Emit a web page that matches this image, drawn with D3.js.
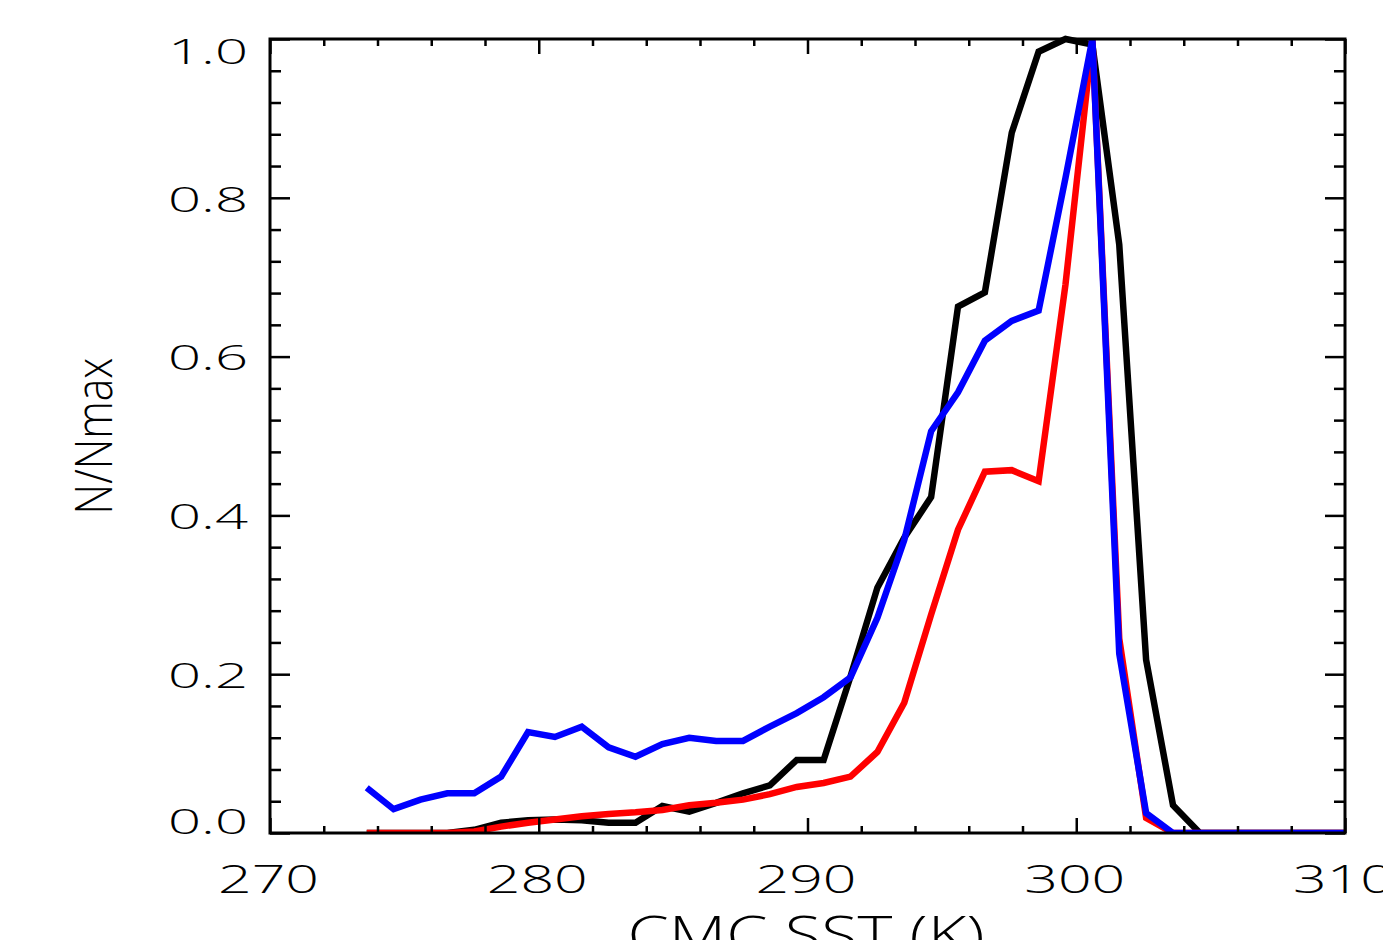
<!DOCTYPE html>
<html>
<head>
<meta charset="UTF-8">
<title>CMC SST N/Nmax</title>
<script src="https://cdn.jsdelivr.net/npm/d3@7/dist/d3.min.js"></script>
<style>
  html, body { margin: 0; padding: 0; background: #fff; overflow: hidden; }
  svg { display: block; }
  text { font-family: "Open Sans", "DejaVu Sans", sans-serif; font-weight: 300; fill: #000; }
</style>
</head>
<body>
<script>
// bin centres (K)
var sst = [273.6, 274.6, 275.6, 276.6, 277.6, 278.6, 279.6, 280.6, 281.6, 282.6,
           283.6, 284.6, 285.6, 286.6, 287.6, 288.6, 289.6, 290.6, 291.6, 292.6,
           293.6, 294.6, 295.6, 296.6, 297.6, 298.6, 299.6, 300.6, 301.6, 302.6,
           303.6, 304.6, 305.6, 306.6, 307.6, 308.6, 309.6, 310.6];

var blackN = [0, 0, 0, 0, 0.004, 0.013, 0.016, 0.017, 0.016, 0.013,
              0.013, 0.034, 0.027, 0.038, 0.050, 0.060, 0.092, 0.092, 0.197, 0.309,
              0.372, 0.423, 0.663, 0.681, 0.882, 0.984, 1.0, 0.993, 0.741, 0.218,
              0.035, 0, 0, 0, 0, 0, 0, 0];

var redN = [0, 0, 0, 0, 0.002, 0.008, 0.013, 0.017, 0.021, 0.024,
            0.026, 0.029, 0.035, 0.038, 0.042, 0.049, 0.058, 0.063, 0.071, 0.102,
            0.164, 0.275, 0.382, 0.455, 0.457, 0.443, 0.691, 1.0, 0.245, 0.019,
            0, 0, 0, 0, 0, 0, 0, 0];

var blueN = [0.057, 0.030, 0.042, 0.050, 0.050, 0.071, 0.127, 0.121, 0.134, 0.108,
             0.096, 0.112, 0.120, 0.116, 0.116, 0.134, 0.151, 0.171, 0.196, 0.271,
             0.369, 0.506, 0.555, 0.620, 0.645, 0.658, 0.825, 1.0, 0.226, 0.025,
             0, 0, 0, 0, 0, 0, 0, 0];

var xMajor = [270, 280, 290, 300, 310];
var xMinor = [272, 274, 276, 278, 282, 284, 286, 288, 292, 294, 296, 298, 302, 304, 306, 308];
var yMajor = [0.0, 0.2, 0.4, 0.6, 0.8, 1.0];
var yMinor = [0.04, 0.08, 0.12, 0.16, 0.24, 0.28, 0.32, 0.36, 0.44, 0.48, 0.52, 0.56,
              0.64, 0.68, 0.72, 0.76, 0.84, 0.88, 0.92, 0.96];

var series = [
  {name: "black", color: "#000000", values: blackN},
  {name: "red",   color: "#ff0000", values: redN},
  {name: "blue",  color: "#0000ff", values: blueN}
];

(function(){
  var W = 1383, H = 940;
  var pL = 270, pR = 1345, pT = 39, pB = 833;

  var x = d3.scaleLinear().domain([270, 310]).range([pL, pR]);
  var y = d3.scaleLinear().domain([0, 1]).range([pB, pT]);

  var svg = d3.select("body").append("svg")
      .attr("width", W)
      .attr("height", H);

  svg.append("clipPath").attr("id", "plotclip")
    .append("rect")
      .attr("x", pL).attr("y", pT - 6)
      .attr("width", pR - pL).attr("height", pB - pT + 6);

  // curves
  var line = d3.line()
      .x(function(d){ return x(d[0]); })
      .y(function(d){ return y(d[1]); });

  svg.append("g").attr("clip-path", "url(#plotclip)")
    .selectAll("path")
    .data(series)
    .enter().append("path")
      .attr("d", function(s){ return line(sst.map(function(k, i){ return [k, s.values[i]]; })); })
      .attr("fill", "none")
      .attr("stroke", function(s){ return s.color; })
      .attr("stroke-width", 6.5);

  // axes: ticks point inward on all four sides
  function styleAxis(g){
    g.select(".domain").remove();
    g.selectAll(".tick line").attr("stroke", "#000").attr("stroke-width", 2.5);
  }

  svg.append("g").attr("transform", "translate(0," + pB + ")")
    .call(d3.axisBottom(x).tickValues(xMinor).tickSize(-7).tickFormat(""))
    .call(styleAxis);
  svg.append("g").attr("transform", "translate(0," + pT + ")")
    .call(d3.axisTop(x).tickValues(xMinor).tickSize(-7).tickFormat(""))
    .call(styleAxis);
  svg.append("g").attr("transform", "translate(0," + pT + ")")
    .call(d3.axisTop(x).tickValues(xMajor).tickSize(-15).tickFormat(""))
    .call(styleAxis);

  var xAx = svg.append("g").attr("transform", "translate(0," + pB + ")")
    .call(d3.axisBottom(x).tickValues(xMajor).tickSize(-15).tickPadding(32).tickFormat(d3.format("d")))
    .call(styleAxis);
  xAx.selectAll("text")
      .attr("font-size", 39)
      .attr("x", -2)
      .attr("textLength", 101)
      .attr("lengthAdjust", "spacingAndGlyphs");

  svg.append("g").attr("transform", "translate(" + pL + ",0)")
    .call(d3.axisLeft(y).tickValues(yMinor).tickSize(-11).tickFormat(""))
    .call(styleAxis);
  svg.append("g").attr("transform", "translate(" + pR + ",0)")
    .call(d3.axisRight(y).tickValues(yMinor).tickSize(-11).tickFormat(""))
    .call(styleAxis);
  svg.append("g").attr("transform", "translate(" + pR + ",0)")
    .call(d3.axisRight(y).tickValues(yMajor).tickSize(-20).tickFormat(""))
    .call(styleAxis);

  var yAx = svg.append("g").attr("transform", "translate(" + pL + ",0)")
    .call(d3.axisLeft(y).tickValues(yMajor).tickSize(-20).tickPadding(22).tickFormat(d3.format(".1f")))
    .call(styleAxis);
  yAx.selectAll("text")
      .attr("font-size", 35)
      .attr("textLength", 80)
      .attr("lengthAdjust", "spacingAndGlyphs")
      .attr("y", function(d){ return d === 1 ? 13 : (d === 0 ? -11 : 2); });

  // frame
  svg.append("rect")
      .attr("x", pL).attr("y", pT)
      .attr("width", pR - pL).attr("height", pB - pT)
      .attr("fill", "none")
      .attr("stroke", "#000")
      .attr("stroke-width", 3);

  // titles
  svg.append("text")
      .attr("x", 806).attr("y", 953)
      .attr("text-anchor", "middle")
      .attr("font-size", 52)
      .attr("textLength", 357)
      .attr("lengthAdjust", "spacingAndGlyphs")
      .text("CMC SST (K)");

  svg.append("text")
      .attr("transform", "translate(112,436) rotate(-90)")
      .attr("text-anchor", "middle")
      .attr("font-size", 52)
      .attr("textLength", 157)
      .attr("lengthAdjust", "spacingAndGlyphs")
      .text("N/Nmax");
})();
</script>
</body>
</html>
